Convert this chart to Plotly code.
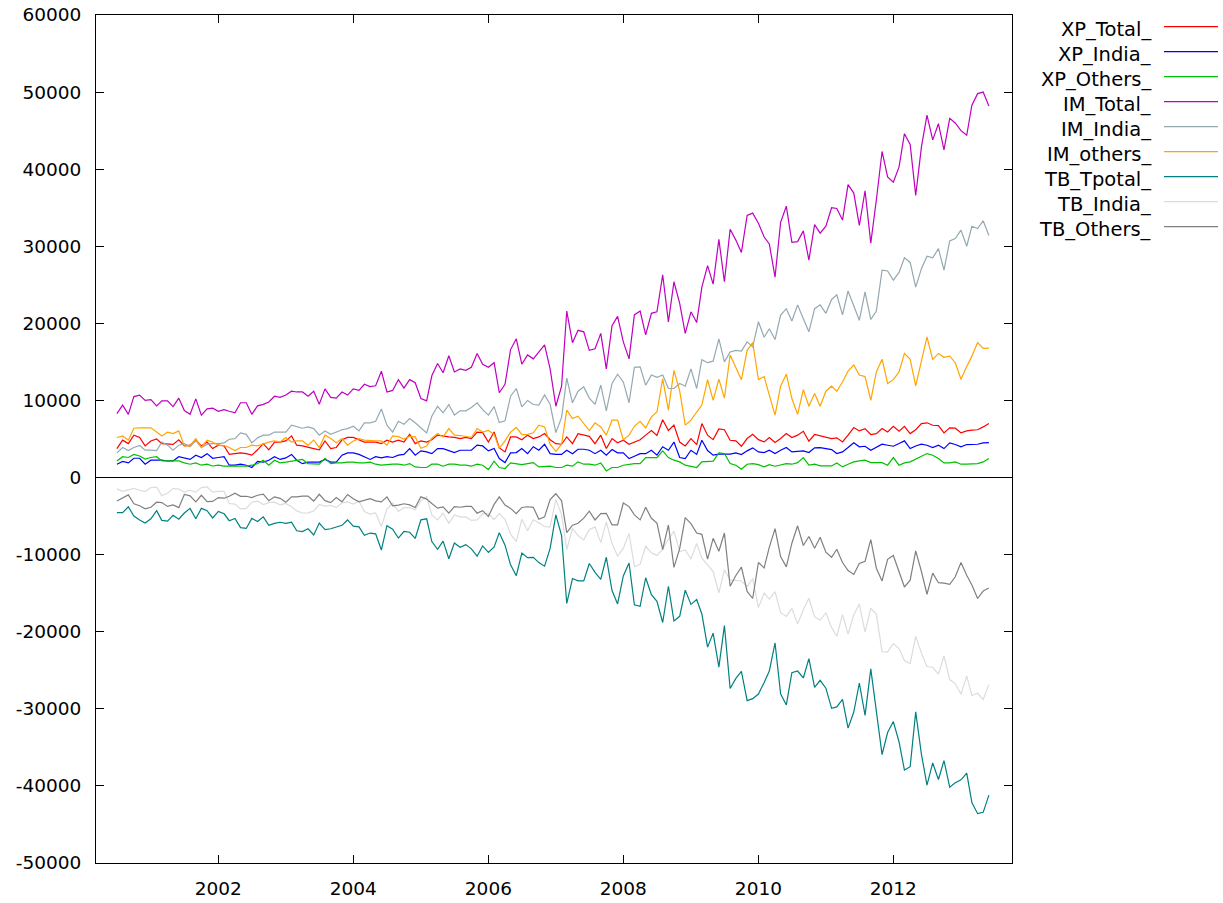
import plotly.graph_objects as go
import pandas as pd

# ---------------- data ----------------
XP_Total = [3760, 4850, 4400, 5500, 5200, 4100, 4750, 5000, 4400, 4300, 4300, 4900, 4100, 4200, 4850, 4100, 4600, 3760, 4200, 4100,
            3000, 3100, 3200, 3100, 2900, 3600, 4400, 3600, 4600, 4600, 4750, 5400, 4200, 4100, 3900, 3760, 3600, 4750, 3760, 3900,
            4900, 5200, 5200, 4900, 4600, 4600, 4600, 4400, 4850, 4600, 4850, 4600,
            5600, 4400, 4760, 4600, 4900, 5500, 5350, 5270, 5200, 5050, 5200, 5050, 5900, 5830, 4600, 5900, 3850, 3330, 5270, 5270,
            4900, 5500, 5050, 5270, 5700, 4900, 4400, 4320, 5270, 4400, 5700, 5500, 5350, 4400, 5500, 3760, 5050, 4500, 4840, 4320,
            4600, 4900, 5500, 6100, 5450, 7500, 6100, 6800, 4600, 4100, 5050, 4280, 7000, 5500,
            4920, 6310, 6200, 4840, 4750, 4060, 5060, 5620, 4920, 4620, 5190, 4540, 5060, 5700, 5190, 5500, 6000, 4710, 5580, 5400,
            5280, 5060, 5150, 4620, 5500, 6480, 6050, 6350, 5580, 5700, 6350, 5920, 6650, 6000, 6650, 5700, 6200, 7000, 7100, 6780,
            6730, 5790, 6440, 6400, 5790, 6050, 6140, 6200, 6570, 7000]

XP_India = [1730, 2100, 1900, 2500, 2500, 1730, 2250, 2250, 2250, 2150, 2150, 2700, 2500, 2350, 2900, 2600, 3100, 2500, 2600, 2700,
            1600, 1600, 1730, 1600, 1300, 2100, 2000, 2250, 2700, 2350, 2550, 3000, 2250, 1800, 2000, 2000, 2000, 2350, 2000, 2000,
            2900, 3200, 3200, 3000, 2700, 2350, 2700, 2550, 2700, 2600, 2900, 3000,
            3760, 2900, 3460, 3330, 3100, 3760, 3760, 3540, 3240, 3540, 3540, 3540, 4200, 4100, 3460, 3760, 2460, 1940, 3200, 3240,
            3760, 3100, 4000, 3540, 4320, 3100, 3000, 3000, 3540, 3100, 3670, 3670, 3540, 3100, 3540, 2900, 3630, 3200, 3200, 2460,
            2760, 3100, 3100, 3540, 2900, 4000, 3540, 4600, 2600, 2460, 3540, 3000, 4840, 3500,
            2900, 3030, 3030, 3030, 3200, 2980, 3460, 3850, 3330, 3240, 3540, 3110, 3540, 3890, 3330, 3420, 3460, 3240, 3850, 3890,
            3760, 3630, 3110, 3330, 3890, 4500, 3980, 4060, 3540, 3890, 4320, 4190, 4060, 4410, 4760, 3760, 4100, 4320, 4190, 3890,
            4190, 3760, 4500, 4280, 3980, 4280, 4320, 4320, 4500, 4540]

XP_Others = [2150, 2700, 2600, 3000, 2800, 2400, 2600, 2700, 2150, 2150, 2150, 2150, 1900, 1730, 1900, 1600, 1730, 1500, 1600, 1470,
             1470, 1470, 1470, 1470, 1600, 1800, 2250, 1600, 2250, 1900, 2000, 2100, 2250, 2350, 1800, 1800, 1730, 2500, 1800, 1900,
             1900, 2000, 2000, 1900, 1900, 2000, 1730, 1600, 1700, 1730, 1730, 1600,
             1810, 1380, 1300, 1300, 1730, 1730, 1470, 1730, 1730, 1600, 1600, 1470, 1730, 1600, 1040, 2120, 1300, 1170, 1900, 1810,
             1680, 1810, 1940, 1380, 1470, 1470, 1300, 1300, 1600, 1470, 2030, 1730, 1730, 1600, 1900, 860, 1300, 1300, 1600, 1730,
             1810, 1810, 2590, 2590, 2590, 3460, 2590, 2250, 2030, 1600, 1470, 1300, 2030, 2120,
             2120, 3200, 3110, 1810, 1600, 1080, 1730, 1810, 1680, 1380, 1680, 1470, 1600, 1810, 1730, 1940, 2590, 1600, 1730, 1510,
             1510, 1510, 1900, 1380, 1730, 2030, 2160, 2250, 1940, 1940, 1940, 1600, 2590, 1600, 1900, 2030, 2380, 2810, 3110, 2900,
             2460, 1900, 1900, 2030, 1730, 1730, 1810, 1810, 2030, 2460]

IM_Total = [8300, 9400, 8200, 10500, 10700, 10000, 10100, 9300, 9950, 9950, 9200, 10300, 8700, 8200, 10200, 8100, 8900, 9000, 8600, 8800,
            8600, 8400, 9700, 9700, 8200, 9300, 9500, 9800, 10550, 10400, 10700, 11200, 11100, 11100, 10550, 11200, 9500, 11500, 10400, 10300,
            11100, 10700, 11500, 11300, 12100, 11800, 11900, 13800, 11100, 11300, 12700, 11600,
            12700, 12300, 10250, 9950, 13200, 14800, 13600, 15800, 13700, 14100, 13900, 14300, 16100, 14700, 14300, 14900, 11000, 12100, 16600, 18000,
            14700, 15900, 15400, 16300, 17200, 14100, 9250, 11850, 21600, 17500, 19100, 18900, 16500, 16700, 18700, 14100, 19700, 20900, 17600, 15400,
            21100, 21600, 18500, 21300, 21500, 26300, 20200, 25400, 22600, 18700, 21500, 20100, 24700, 27500,
            25100, 30900, 25400, 32200, 30800, 29200, 34000, 34300, 33000, 31200, 30300, 26000, 33100, 35200, 30500, 30600, 32000, 28200, 32800, 31700,
            32600, 35000, 34900, 33400, 38000, 36900, 32700, 37200, 30400, 36000, 42300, 39000, 38300, 40300, 44600, 43200, 36600, 42900, 47000, 43800,
            45900, 42500, 46600, 46000, 45000, 44400, 48300, 49800, 50000, 48200]

IM_India = [3200, 3900, 3500, 3900, 4150, 3550, 3550, 3500, 4600, 4200, 3550, 4200, 4400, 4000, 4800, 3900, 4300, 4400, 4400, 4500,
            4970, 5050, 5800, 5600, 4500, 5150, 5500, 5500, 5900, 5900, 5900, 6800, 6570, 6400, 6570, 6350, 5500, 6050, 5600, 5900,
            6200, 6350, 6650, 6050, 7100, 7100, 7300, 8900, 6800, 5900, 7300, 6900,
            7650, 7100, 6450, 5800, 7960, 9250, 8400, 9470, 8100, 8650, 8650, 9100, 9700, 8800, 8100, 9200, 7130, 7350, 10550, 11550,
            9170, 10000, 9470, 9400, 10700, 9500, 5830, 7800, 12900, 9700, 11200, 11760, 10300, 9500, 11980, 8650, 12200, 13400, 12400, 9700,
            14300, 14350, 11980, 13300, 13000, 13300, 11550, 11550, 12200, 11850, 14100, 11550, 15300, 14900,
            15100, 18000, 15000, 16300, 16500, 16400, 17600, 16950, 20200, 18200, 19300, 17900, 21070, 21900, 20300, 22400, 20600, 18900, 21900, 22400,
            21300, 23100, 23700, 21100, 24200, 22300, 20400, 24100, 20500, 21600, 26900, 26800, 25600, 26600, 28500, 27900, 24700, 27100, 28700, 28500,
            29700, 26900, 30700, 31000, 32100, 30000, 32600, 32300, 33300, 31400]

IM_others = [5200, 5400, 4850, 6400, 6450, 6450, 6450, 5900, 5400, 5900, 5700, 6050, 4100, 4100, 5050, 3900, 4850, 4600, 4200, 4150,
             3900, 3500, 3900, 3900, 4200, 4100, 4400, 4600, 4750, 4600, 5200, 4600, 4750, 4750, 4200, 4850, 3900, 5500, 5050, 4500,
             5050, 4200, 4750, 5050, 4850, 4750, 4750, 4750, 4200, 5400, 5300, 5000,
             5350, 5270, 3800, 4100, 5100, 5700, 5270, 6350, 5500, 5450, 5350, 5200, 6350, 5900, 6100, 5600, 3800, 4750, 5900, 6500,
             5560, 5600, 5800, 6800, 6570, 4320, 3400, 4320, 8740, 7650, 7960, 7000, 6100, 7100, 6570, 5500, 7440, 7440, 4900, 5500,
             6650, 7300, 6450, 7870, 8500, 12800, 8740, 13900, 11250, 6800, 7440, 8500, 9400, 12700,
             10000, 12760, 10300, 15900, 14300, 12700, 16500, 17500, 12700, 13100, 10700, 8100, 11850, 13400, 10250, 8200, 11400, 9250, 10900, 9250,
             11200, 11850, 11200, 12400, 13800, 14600, 13300, 13100, 10000, 13700, 15350, 12200, 12700, 13700, 16100, 15350, 11900, 15000, 18250, 15300,
             16100, 15600, 15750, 14900, 12760, 14400, 15750, 17500, 16750, 16800]

TB_Tpotal = [-4540, -4550, -3800, -5000, -5500, -5900, -5350, -4300, -5550, -5650, -4900, -5400, -4600, -4000, -5350, -4000, -4300, -5240, -4400, -4700,
             -5600, -5300, -6500, -6600, -5300, -5700, -5100, -6200, -5950, -5800, -5950, -5800, -6900, -7000, -6650, -7440, -5900, -6750, -6640, -6400,
             -6200, -5500, -6300, -6400, -7500, -7200, -7300, -9400, -6250, -6700, -7850, -7000,
             -7100, -7900, -5490, -5350, -8300, -9300, -8250, -10530, -8500, -9050, -8700, -9250, -10200, -8870, -9700, -9000, -7150, -8770, -11330, -12730,
             -9800, -10400, -10350, -11030, -11500, -9200, -4850, -7530, -16330, -13100, -13400, -13400, -11150, -12300, -13200, -10340, -14650, -16400, -12760, -11080,
             -16500, -16700, -13000, -15200, -16050, -18800, -14100, -18600, -18000, -14600, -16450, -15820, -17700, -22000,
             -20180, -24590, -19200, -27360, -26050, -25140, -28940, -28680, -28080, -26580, -25110, -21460, -28040, -29500, -25310, -25100, -26000, -23490, -27220, -26300,
             -27320, -29940, -29750, -28780, -32500, -30420, -26650, -30850, -24820, -30300, -35950, -33080, -31650, -34300, -37950, -37500, -30400, -35900, -39900, -37020,
             -39170, -36710, -40160, -39600, -39210, -38350, -42160, -43600, -43430, -41200]

TB_India = [-1470, -1800, -1600, -1400, -1650, -1820, -1300, -1250, -2350, -2050, -1400, -1500, -1900, -1650, -1900, -1300, -1200, -1900, -1800, -1800,
            -3370, -3450, -4070, -4000, -3200, -3050, -3500, -3250, -3200, -3550, -3350, -3800, -4320, -4600, -4570, -4350, -3500, -3700, -3600, -3900,
            -3300, -3150, -3450, -3050, -4400, -4750, -4600, -6350, -4100, -3300, -4400, -3900,
            -3890, -4200, -2990, -2470, -4860, -5490, -4640, -5930, -4860, -5110, -5110, -5560, -5500, -4700, -4640, -5440, -4670, -5410, -7350, -8310,
            -5410, -6900, -5470, -5860, -6380, -6400, -2830, -4800, -9360, -6600, -7530, -8090, -6760, -6400, -8440, -5750, -8570, -10200, -9200, -7240,
            -11540, -11250, -8880, -9760, -10100, -9300, -8010, -6950, -9600, -9390, -10560, -8550, -10460, -11400,
            -12200, -14970, -11970, -13270, -13300, -13420, -14140, -13100, -16870, -14960, -15760, -14790, -17530, -18010, -16970, -18980, -17140, -15660, -18050, -18510,
            -17540, -19470, -20590, -17770, -20310, -17800, -16420, -20040, -16960, -17710, -22580, -22610, -21540, -22190, -23740, -24140, -20600, -22780, -24510, -24610,
            -25510, -23140, -26200, -26720, -28120, -25720, -28280, -27980, -28800, -26860]

TB_Others = [-3050, -2700, -2250, -3400, -3650, -4050, -3850, -3200, -3250, -3750, -3550, -3900, -2200, -2370, -3150, -2300, -3120, -3100, -2600, -2680,
             -2430, -2030, -2430, -2430, -2600, -2300, -2150, -3000, -2500, -2700, -3200, -2500, -2500, -2400, -2400, -3050, -2170, -3000, -3250, -2600,
             -3150, -2200, -2750, -3150, -2950, -2750, -3020, -3150, -2500, -3670, -3570, -3400,
             -3540, -3890, -2500, -2800, -3370, -3970, -3800, -4620, -3770, -3850, -3750, -3730, -4620, -4300, -5060, -3480, -2500, -3580, -4000, -4690,
             -3880, -3790, -3860, -5420, -5100, -2850, -2100, -3020, -7140, -6180, -5930, -5270, -4370, -5500, -4670, -4640, -6140, -6140, -3300, -3770,
             -4840, -5490, -3860, -5280, -5910, -9340, -6150, -11650, -9220, -5200, -5970, -7200, -7370, -10580,
             -7880, -9560, -7190, -14090, -12700, -11620, -14770, -15690, -11020, -11720, -9020, -6630, -10250, -11590, -8520, -6260, -8810, -7650, -9170, -7740,
             -9690, -10340, -9300, -11020, -12070, -12570, -11140, -10850, -8060, -11760, -13410, -10600, -10110, -12100, -14200, -13320, -9520, -12190, -15140, -12400,
             -13640, -13700, -13850, -12870, -11030, -12670, -13940, -15690, -14720, -14340]

series_names = ["XP_Total_", "XP_India_", "XP_Others_", "IM_Total_", "IM_India_",
                "IM_others_", "TB_Tpotal_", "TB_India_", "TB_Others_"]
series_values = [XP_Total, XP_India, XP_Others, IM_Total, IM_India,
                 IM_others, TB_Tpotal, TB_India, TB_Others]
series_colors = ["#ff0000", "#0000ff", "#00c000", "#c000c0", "#94a9b2",
                 "#ffa500", "#008080", "#dcdcdc", "#808080"]

months = pd.date_range("2000-07-01", periods=len(XP_Total), freq="MS")

x_tick_vals = ["2002-01-01", "2004-01-01", "2006-01-01", "2008-01-01", "2010-01-01", "2012-01-01"]
x_tick_text = ["2002", "2004", "2006", "2008", "2010", "2012"]
y_tick_vals = [60000, 50000, 40000, 30000, 20000, 10000, 0, -10000, -20000, -30000, -40000, -50000]
y_tick_text = ["60000", "50000", "40000", "30000", "20000", "10000", "0",
               "-10000", "-20000", "-30000", "-40000", "-50000"]

# ---------------- figure ----------------
FONT = "DejaVu Sans"
FS = 18.5
FS_KEY = 19.5
W, H = 1223, 903
ML, MR, MT, MB = 96, 211, 15, 40
PW, PH = W - ML - MR, H - MT - MB

fig = go.Figure()
for name, vals, col in zip(series_names, series_values, series_colors):
    fig.add_trace(go.Scatter(x=months, y=vals, mode="lines", name=name,
                             line=dict(color=col, width=1.2), showlegend=False))

fig.update_layout(
    width=W, height=H,
    margin=dict(l=ML, r=MR, t=MT, b=MB, pad=0, autoexpand=False),
    plot_bgcolor="white", paper_bgcolor="white",
    font=dict(family=FONT, size=FS, color="#000000"),
    showlegend=False,
)
fig.update_xaxes(type="date", range=["2000-03-10", "2013-10-04"],
                 tickvals=x_tick_vals, ticktext=x_tick_text,
                 ticks="inside", ticklen=8, tickwidth=1, tickcolor="#000000",
                 showline=True, linecolor="#000000", linewidth=1, mirror="ticks",
                 showgrid=False, zeroline=False, ticklabelstandoff=9, automargin=False)
fig.update_yaxes(range=[-50000, 60000],
                 tickvals=y_tick_vals, ticktext=y_tick_text,
                 ticks="inside", ticklen=8, tickwidth=1, tickcolor="#000000",
                 showline=True, linecolor="#000000", linewidth=1, mirror="ticks",
                 showgrid=False, zeroline=True, zerolinecolor="#000000", zerolinewidth=1,
                 ticklabelstandoff=10, automargin=False)

# manual gnuplot-style key: right-aligned text followed by line sample
for k, (name, col) in enumerate(zip(series_names, series_colors)):
    y_line = 26.7 + 25 * k
    yp_line = (MT + PH - y_line) / PH
    yp_text = (MT + PH - (y_line + 3)) / PH
    fig.add_annotation(x=(1153 - ML) / PW, y=yp_text, xref="paper", yref="paper",
                       text=name, showarrow=False, xanchor="right", yanchor="middle",
                       font=dict(family=FONT, size=FS_KEY, color="#000000"))
    fig.add_shape(type="line", xref="paper", yref="paper",
                  x0=(1164 - ML) / PW, x1=(1218 - ML) / PW, y0=yp_line, y1=yp_line,
                  line=dict(color=col, width=1.2))

fig.write_html("out.html")
